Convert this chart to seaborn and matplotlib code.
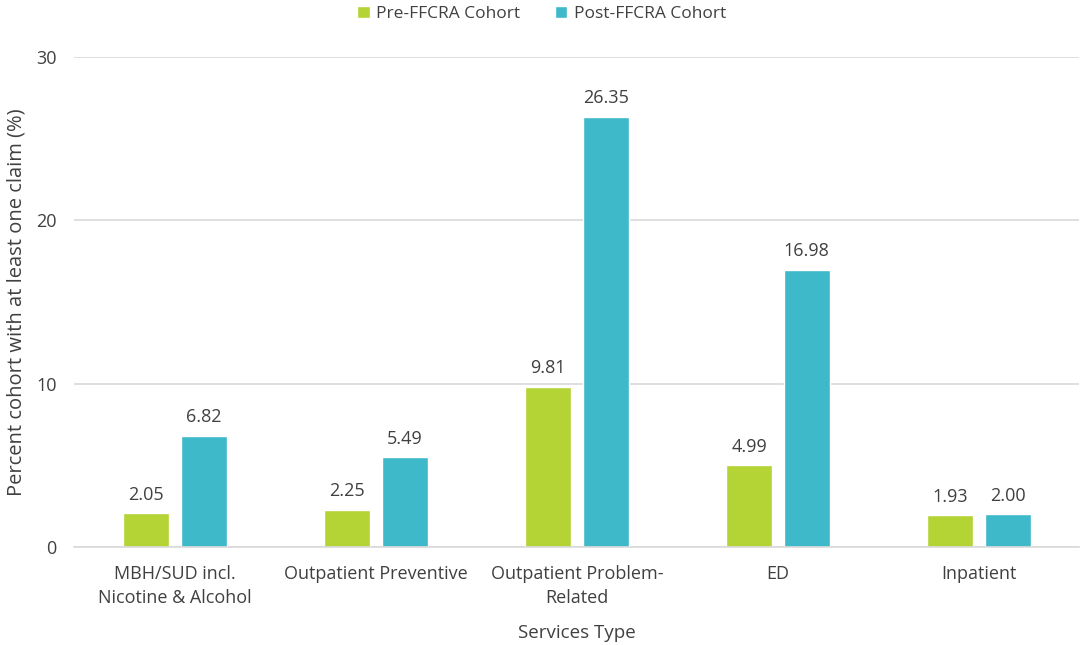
import matplotlib
matplotlib.use("Agg")
import matplotlib.pyplot as plt
import seaborn as sns
import pandas as pd

categories = ["MBH/SUD incl.\nNicotine & Alcohol", "Outpatient Preventive",
              "Outpatient Problem-\nRelated", "ED", "Inpatient"]
pre_values = [2.05, 2.25, 9.81, 4.99, 1.93]
post_values = [6.82, 5.49, 26.35, 16.98, 2.00]
series_names = ["Pre-FFCRA Cohort", "Post-FFCRA Cohort"]
yticks = [0, 10, 20, 30]

df = pd.DataFrame({
    "Services Type": categories * 2,
    "value": pre_values + post_values,
    "Cohort": [series_names[0]] * len(categories) + [series_names[1]] * len(categories),
})

sns.set_theme(style="white")
plt.rcParams["font.family"] = ["Open Sans", "DejaVu Sans"]

colors = ["#B4D334", "#3DB9CA"]
fig = plt.figure(figsize=(10.84, 6.45), dpi=100)
ax = fig.add_axes([0.0687, 0.152, 0.927, 0.7596])

sns.barplot(data=df, x="Services Type", y="value", hue="Cohort",
            palette=colors, saturation=1, width=0.572, gap=0.2, ax=ax, legend=True)

ax.set_ylim(0, 30)
ax.set_xlim(-0.5, 4.5)
ax.set_yticks(yticks)
ax.yaxis.grid(True, color="#D9D9D9", linewidth=1.2)
ax.set_axisbelow(True)
for s in ["top", "right", "left"]:
    ax.spines[s].set_visible(False)
ax.spines["bottom"].set_color("#D9D9D9")
ax.spines["bottom"].set_linewidth(1.2)
ax.tick_params(axis="both", length=0, labelsize=13, colors="#404040")
ax.tick_params(axis="y", pad=13)
ax.tick_params(axis="x", pad=13)
for lab in ax.get_xticklabels():
    lab.set_linespacing(1.45)

for cont in ax.containers:
    ax.bar_label(cont, fmt="%.2f", padding=7, fontsize=13, color="#404040")

ax.set_xlabel("Services Type", fontsize=13.5, color="#404040", labelpad=12)
ax.set_ylabel("Percent cohort with at least one claim (%)", fontsize=14.5,
              color="#404040", labelpad=7)

handles, labels = ax.get_legend_handles_labels()
ax.get_legend().remove()
fig.legend(handles, labels, loc="upper center", bbox_to_anchor=(0.5, 1.015),
           ncol=2, frameon=False, fontsize=12.5, handlelength=0.7, handleheight=0.7,
           columnspacing=2.0, handletextpad=0.4, labelcolor="#404040")

fig.savefig("out.png", dpi=100)
